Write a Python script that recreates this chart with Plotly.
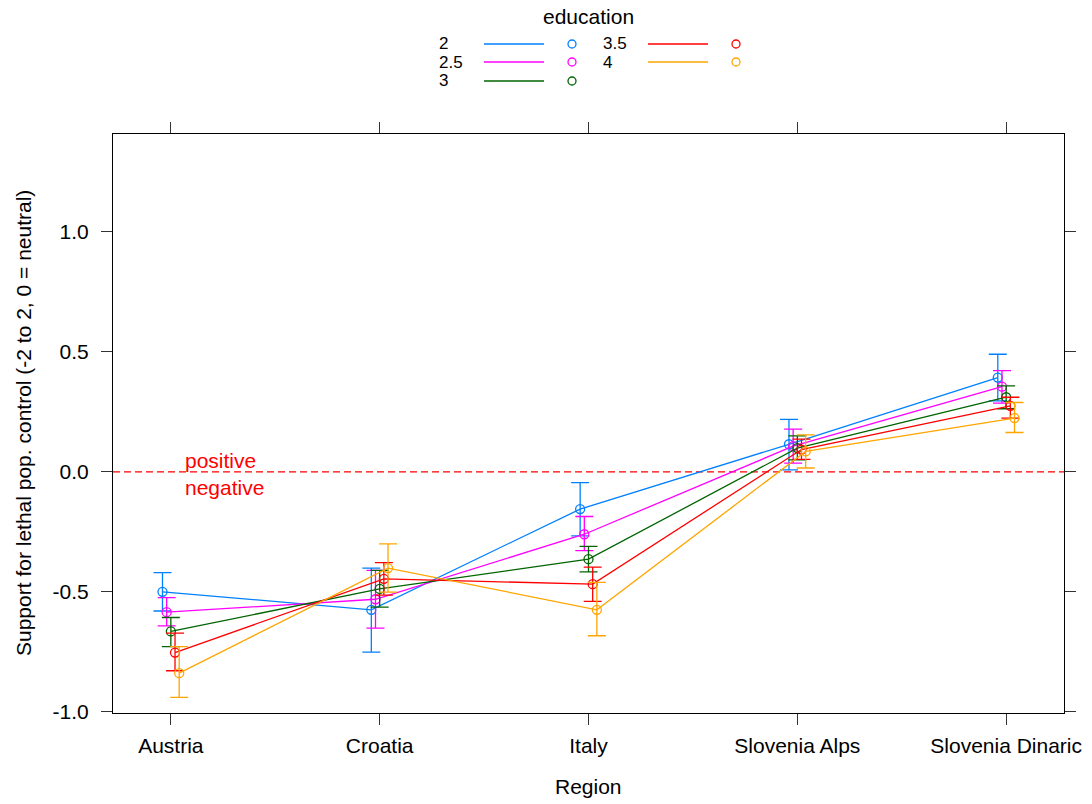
import plotly.graph_objects as go

# ---------------- data ----------------
regions = ["Austria", "Croatia", "Italy", "Slovenia Alps", "Slovenia Dinaric"]
education = ["2", "2.5", "3", "3.5", "4"]
colors = ["#0080ff", "#ff00ff", "#006400", "#ff0000", "#ffa500"]

fit_2   = [-0.500, -0.575, -0.155, 0.115, 0.393]
fit_2_5 = [-0.585, -0.531, -0.260, 0.107, 0.355]
fit_3   = [-0.665, -0.488, -0.364, 0.099, 0.311]
fit_3_5 = [-0.753, -0.446, -0.468, 0.093, 0.275]
fit_4   = [-0.839, -0.401, -0.575, 0.085, 0.224]

lower_2   = [-0.580, -0.751, -0.267, 0.008, 0.296]
lower_2_5 = [-0.642, -0.651, -0.328, 0.036, 0.286]
lower_3   = [-0.728, -0.564, -0.417, 0.050, 0.263]
lower_3_5 = [-0.829, -0.514, -0.540, 0.052, 0.224]
lower_4   = [-0.940, -0.501, -0.683, 0.016, 0.164]

upper_2   = [-0.420, -0.401, -0.045, 0.219, 0.490]
upper_2_5 = [-0.524, -0.411, -0.186, 0.178, 0.422]
upper_3   = [-0.607, -0.411, -0.311, 0.150, 0.358]
upper_3_5 = [-0.672, -0.378, -0.397, 0.136, 0.311]
upper_4   = [-0.728, -0.300, -0.461, 0.154, 0.289]

fits = [fit_2, fit_2_5, fit_3, fit_3_5, fit_4]
lowers = [lower_2, lower_2_5, lower_3, lower_3_5, lower_4]
uppers = [upper_2, upper_2_5, upper_3, upper_3_5, upper_4]

y_ticks = [-1.0, -0.5, 0.0, 0.5, 1.0]
y_ticktext = ["-1.0", "-0.5", "0.0", "0.5", "1.0"]

# ---------------- styling ----------------
FONT = "Liberation Sans, Arial, sans-serif"
W, H = 1092, 804
L, R, T, B = 113, 1064, 134, 713  # plot box in pixels
dodge = 0.02
lw = 1.3

def px(xp):
    return (xp - L) / (R - L)

def py(yp):
    return (B - yp) / (B - T)

fig = go.Figure()
n = len(education)
for i, (lvl, col) in enumerate(zip(education, colors)):
    off = (i - (n - 1) / 2) * dodge
    xs = [k + 1 + off for k in range(len(regions))]
    f = fits[i]
    up = [u - m for u, m in zip(uppers[i], f)]
    dn = [m - lo for m, lo in zip(f, lowers[i])]
    fig.add_trace(go.Scatter(
        x=xs, y=f, mode="lines+markers", name=lvl,
        line=dict(color=col, width=lw),
        marker=dict(symbol="circle-open", size=9, color=col, line=dict(width=lw, color=col)),
        error_y=dict(type="data", array=up, arrayminus=dn, symmetric=False,
                     color=col, thickness=lw, width=9),
        showlegend=False,
    ))

shapes = []
annotations = []

# reference line at 0
shapes.append(dict(type="line", xref="paper", yref="y", x0=0, x1=1, y0=0, y1=0,
                   line=dict(color="#ff0000", width=1.3, dash="7px,4px"), layer="below"))
annotations.append(dict(text="positive", x=1.059, y=0, xref="x", yref="y",
                        xanchor="left", yanchor="bottom", showarrow=False, yshift=-2,
                        font=dict(family=FONT, size=21, color="#ff0000")))
annotations.append(dict(text="negative", x=1.059, y=0, xref="x", yref="y",
                        xanchor="left", yanchor="top", showarrow=False, yshift=-2,
                        font=dict(family=FONT, size=21, color="#ff0000")))

# axis titles
annotations.append(dict(text="Region", x=px(588), y=py(786), xref="paper", yref="paper",
                        xanchor="center", yanchor="middle", showarrow=False,
                        font=dict(family=FONT, size=21, color="black")))
annotations.append(dict(text="Support for lethal pop. control (-2 to 2, 0 = neutral)",
                        x=px(23), y=py(423), xref="paper", yref="paper", textangle=-90,
                        xanchor="center", yanchor="middle", showarrow=False,
                        font=dict(family=FONT, size=21, color="black")))

# custom lattice-style legend
annotations.append(dict(text="education", x=px(588), y=py(17), xref="paper", yref="paper",
                        xanchor="center", yanchor="middle", showarrow=False,
                        font=dict(family=FONT, size=21, color="black")))
row_y = [44, 62, 81]
col_x = [(437, 484, 544, 572), (601, 648, 708, 736)]
for i, (lvl, col) in enumerate(zip(education, colors)):
    c = i // 3
    r = i % 3
    tx, lx0, lx1, cx = col_x[c]
    yy = py(row_y[r])
    annotations.append(dict(text=lvl, x=px(tx), y=yy, xref="paper", yref="paper",
                            xanchor="left", yanchor="middle", showarrow=False,
                            font=dict(family=FONT, size=17, color="black")))
    shapes.append(dict(type="line", xref="paper", yref="paper", x0=px(lx0), x1=px(lx1),
                       y0=yy, y1=yy, line=dict(color=col, width=lw)))
    shapes.append(dict(type="circle", xref="paper", yref="paper",
                       xsizemode="pixel", ysizemode="pixel",
                       xanchor=px(cx), yanchor=yy, x0=-4, x1=4, y0=-4, y1=4,
                       line=dict(color=col, width=lw)))

axis_common = dict(
    showline=True, linecolor="black", linewidth=1, mirror="ticks",
    ticks="outside", ticklen=11, tickwidth=1, tickcolor="#333333",
    showgrid=False, zeroline=False, automargin=False,
    tickfont=dict(family=FONT, size=21, color="black"),
)

fig.update_layout(
    template="none",
    width=W, height=H,
    margin=dict(l=L, r=W - R, t=T, b=H - B, pad=0),
    paper_bgcolor="white", plot_bgcolor="white",
    xaxis=dict(range=[0.723, 5.277], tickvals=[1, 2, 3, 4, 5], ticktext=regions,
               ticklabelstandoff=3, **axis_common),
    yaxis=dict(range=[-1.005, 1.408], tickvals=y_ticks, ticktext=y_ticktext,
               ticklabelstandoff=8, **axis_common),
    shapes=shapes,
    annotations=annotations,
    showlegend=False,
)

fig.write_html("out.html", config={"displayModeBar": False},
               post_script="document.body.style.margin='0';document.body.style.overflow='hidden';")
